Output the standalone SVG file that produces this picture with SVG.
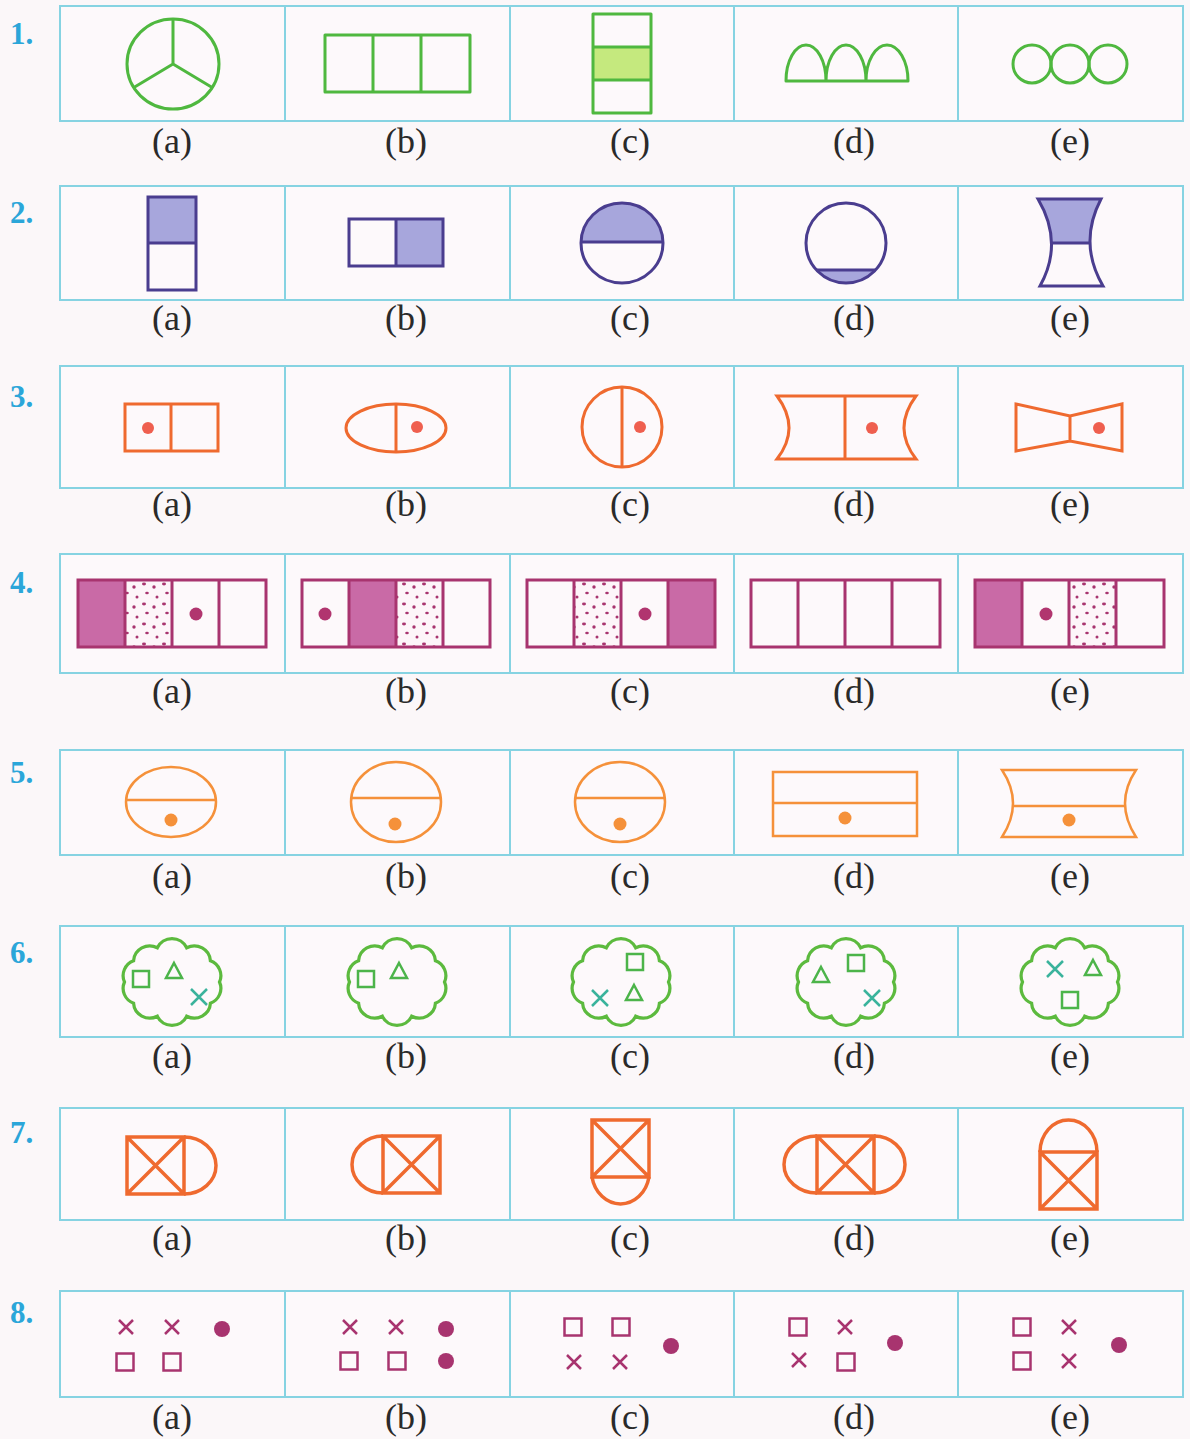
<svg xmlns="http://www.w3.org/2000/svg" width="1190" height="1439" viewBox="0 0 1190 1439">
<style>
.bg{fill:#fbf7f9}
.box{fill:#fdf9fb;stroke:#86d3e2;stroke-width:2}
.div{stroke:#86d3e2;stroke-width:2}
.num{font-family:"Liberation Serif",serif;font-weight:bold;font-size:31px;fill:#2ba6d9}
.lab{font-family:"Liberation Serif",serif;font-size:36px;fill:#2a2a2a;text-anchor:middle}
.g{fill:none;stroke:#4fb83f;stroke-width:3;stroke-linejoin:round}
.p{fill:none;stroke:#4a3d8f;stroke-width:3}
.pf{fill:#a7a6dc;stroke:none}
.o{fill:none;stroke:#ef6a2f;stroke-width:3}
.od{fill:#ef5f4f}
.m{fill:none;stroke:#a8346f;stroke-width:3}
.mf{fill:#c96aa6}
.md{fill:#b1356f}
.o5{fill:none;stroke:#f5913a;stroke-width:2.5}
.o5d{fill:#f5913a}
.cl{fill:none;stroke:#5cba3e;stroke-width:3}
.sh{fill:none;stroke:#4cb44a;stroke-width:2.5}
.x6{fill:none;stroke:#3ab39c;stroke-width:2.5}
.o7{fill:none;stroke:#ef6a2f;stroke-width:3.5}
.m8{fill:none;stroke:#a8346f;stroke-width:2.5}
.m8d{fill:#a8346f}
</style>
<defs>
<pattern id="speck" width="20" height="20" patternUnits="userSpaceOnUse">
<rect width="20" height="20" fill="#fdf5f9"/>
<ellipse cx="4" cy="4" rx="2" ry="1.4" fill="#a8346f"/>
<ellipse cx="14" cy="7" rx="1.7" ry="1.7" fill="#a8346f"/>
<ellipse cx="7" cy="13" rx="1.8" ry="1.3" fill="#a8346f"/>
<ellipse cx="17" cy="17" rx="1.5" ry="1.5" fill="#a8346f"/>
</pattern>
<path id="cloud" d="M44,0 A15,15 0 0 1 35.6,20 A15,15 0 0 1 13.6,32.3 A15,15 0 0 1 -13.6,32.3 A15,15 0 0 1 -35.6,20 A15,15 0 0 1 -44,0 A15,15 0 0 1 -35.6,-20 A15,15 0 0 1 -13.6,-32.3 A15,15 0 0 1 13.6,-32.3 A15,15 0 0 1 35.6,-20 A15,15 0 0 1 44,0 Z"/>
<path id="sq" d="M-8,-8 h16 v16 h-16 Z"/>
<path id="tri" d="M0,-8 L8,7 L-8,7 Z"/>
<path id="ex" d="M-8,-8 L8,8 M8,-8 L-8,8"/>
<path id="ex8" d="M-7,-7 L7,7 M7,-7 L-7,7"/>
<path id="sq8" d="M-8.5,-8.5 h17 v17 h-17 Z"/>
<path id="cr" d="M0,0 h57 v57 h-57 Z M0,0 L57,57 M57,0 L0,57"/>
</defs>
<rect class="bg" x="0" y="0" width="1190" height="1439"/>

<g id="frames">
<rect class="box" x="60" y="6" width="1123" height="115"/>
<rect class="box" x="60" y="186" width="1123" height="114"/>
<rect class="box" x="60" y="366" width="1123" height="122"/>
<rect class="box" x="60" y="554" width="1123" height="119"/>
<rect class="box" x="60" y="750" width="1123" height="105"/>
<rect class="box" x="60" y="926" width="1123" height="111"/>
<rect class="box" x="60" y="1108" width="1123" height="112"/>
<rect class="box" x="60" y="1291" width="1123" height="106"/>
<path class="div" d="M285,6V121 M510,6V121 M734,6V121 M958,6V121
M285,186V300 M510,186V300 M734,186V300 M958,186V300
M285,366V488 M510,366V488 M734,366V488 M958,366V488
M285,554V673 M510,554V673 M734,554V673 M958,554V673
M285,750V855 M510,750V855 M734,750V855 M958,750V855
M285,926V1037 M510,926V1037 M734,926V1037 M958,926V1037
M285,1108V1220 M510,1108V1220 M734,1108V1220 M958,1108V1220
M285,1291V1397 M510,1291V1397 M734,1291V1397 M958,1291V1397"/>
</g>

<g id="numbers">
<text class="num" x="10" y="44">1.</text>
<text class="num" x="10" y="223">2.</text>
<text class="num" x="10" y="407">3.</text>
<text class="num" x="10" y="593">4.</text>
<text class="num" x="10" y="783">5.</text>
<text class="num" x="10" y="963">6.</text>
<text class="num" x="10" y="1143">7.</text>
<text class="num" x="10" y="1323">8.</text>
</g>

<g id="labels">
<g><text class="lab" x="172" y="153">(a)</text><text class="lab" x="406" y="153">(b)</text><text class="lab" x="630" y="153">(c)</text><text class="lab" x="854" y="153">(d)</text><text class="lab" x="1070" y="153">(e)</text></g>
<g><text class="lab" x="172" y="330">(a)</text><text class="lab" x="406" y="330">(b)</text><text class="lab" x="630" y="330">(c)</text><text class="lab" x="854" y="330">(d)</text><text class="lab" x="1070" y="330">(e)</text></g>
<g><text class="lab" x="172" y="516">(a)</text><text class="lab" x="406" y="516">(b)</text><text class="lab" x="630" y="516">(c)</text><text class="lab" x="854" y="516">(d)</text><text class="lab" x="1070" y="516">(e)</text></g>
<g><text class="lab" x="172" y="703">(a)</text><text class="lab" x="406" y="703">(b)</text><text class="lab" x="630" y="703">(c)</text><text class="lab" x="854" y="703">(d)</text><text class="lab" x="1070" y="703">(e)</text></g>
<g><text class="lab" x="172" y="888">(a)</text><text class="lab" x="406" y="888">(b)</text><text class="lab" x="630" y="888">(c)</text><text class="lab" x="854" y="888">(d)</text><text class="lab" x="1070" y="888">(e)</text></g>
<g><text class="lab" x="172" y="1068">(a)</text><text class="lab" x="406" y="1068">(b)</text><text class="lab" x="630" y="1068">(c)</text><text class="lab" x="854" y="1068">(d)</text><text class="lab" x="1070" y="1068">(e)</text></g>
<g><text class="lab" x="172" y="1250">(a)</text><text class="lab" x="406" y="1250">(b)</text><text class="lab" x="630" y="1250">(c)</text><text class="lab" x="854" y="1250">(d)</text><text class="lab" x="1070" y="1250">(e)</text></g>
<g><text class="lab" x="172" y="1429">(a)</text><text class="lab" x="406" y="1429">(b)</text><text class="lab" x="630" y="1429">(c)</text><text class="lab" x="854" y="1429">(d)</text><text class="lab" x="1070" y="1429">(e)</text></g>
</g>

<!-- Row 1 -->
<g id="q1a"><ellipse class="g" cx="173" cy="64" rx="46" ry="45"/><path class="g" d="M173,64 V19 M173,64 L133,88 M173,64 L213,88"/></g>
<g id="q1b"><rect class="g" x="325" y="35" width="145" height="57"/><path class="g" d="M373,35V92 M421,35V92"/></g>
<g id="q1c"><rect x="593" y="47" width="58" height="33" fill="#c5e97e"/><rect class="g" x="593" y="14" width="58" height="99"/><path class="g" d="M593,47H651 M593,80H651"/></g>
<g id="q1d"><path class="g" d="M786,81 A20,36 0 0 1 826,81 A20,36 0 0 1 866,81 A21,36 0 0 1 908,81 Z M826,81V78 M866,81V78"/></g>
<g id="q1e"><ellipse class="g" cx="1032" cy="64" rx="19" ry="19"/><ellipse class="g" cx="1070" cy="64" rx="19" ry="19"/><ellipse class="g" cx="1108" cy="64" rx="19" ry="19"/></g>

<!-- Row 2 -->
<g id="q2a"><rect class="pf" x="148" y="197" width="48" height="46"/><rect class="p" x="148" y="197" width="48" height="93"/><path class="p" d="M148,243H196"/></g>
<g id="q2b"><rect class="pf" x="396" y="219" width="47" height="47"/><rect class="p" x="349" y="219" width="94" height="47"/><path class="p" d="M396,219V266"/></g>
<g id="q2c"><path class="pf" d="M581,242 A41,40 0 0 1 663,242 Z"/><ellipse class="p" cx="622" cy="243" rx="41" ry="40"/><path class="p" d="M581,242H663"/></g>
<g id="q2d"><path class="pf" d="M816.5,270 A40,40 0 0 0 875.5,270 Z"/><ellipse class="p" cx="846" cy="243" rx="40" ry="40"/><path class="p" d="M816.5,270H875.5"/></g>
<g id="q2e"><path class="pf" d="M1038,199 L1101,199 Q1089.5,221 1090,243 L1051.5,243 Q1051,221 1038,199 Z"/><path class="p" d="M1038,199 L1101,199 Q1078,243 1103,286 L1040,286 Q1064,243 1038,199 Z M1051.5,243H1090"/></g>

<!-- Row 3 -->
<g id="q3a"><rect class="o" x="125" y="404" width="93" height="47"/><path class="o" d="M171,404V451"/><circle class="od" cx="148" cy="428" r="6"/></g>
<g id="q3b"><ellipse class="o" cx="396" cy="428" rx="50" ry="24"/><path class="o" d="M396,404V452"/><circle class="od" cx="417" cy="427" r="6"/></g>
<g id="q3c"><ellipse class="o" cx="622" cy="427" rx="40" ry="40"/><path class="o" d="M622,387V467"/><circle class="od" cx="640" cy="427" r="6"/></g>
<g id="q3d"><path class="o" d="M777,396 L916,396 Q892,428 916,459 L777,459 Q801,428 777,396 Z M845,396V459"/><circle class="od" cx="872" cy="428" r="6"/></g>
<g id="q3e"><path class="o" d="M1016,404 L1070,416 L1122,404 L1122,451 L1070,441 L1016,451 Z M1070,416V441"/><circle class="od" cx="1099" cy="428" r="6"/></g>

<!-- Row 4 -->
<g id="q4a"><rect class="mf" x="78" y="580" width="47" height="67"/><rect x="125" y="580" width="47" height="67" fill="url(#speck)"/><rect class="m" x="78" y="580" width="188" height="67"/><path class="m" d="M125,580V647 M172,580V647 M219,580V647"/><circle class="md" cx="196" cy="614" r="6.5"/></g>
<g id="q4b"><rect class="mf" x="349" y="580" width="47" height="67"/><rect x="396" y="580" width="47" height="67" fill="url(#speck)"/><rect class="m" x="302" y="580" width="188" height="67"/><path class="m" d="M349,580V647 M396,580V647 M443,580V647"/><circle class="md" cx="325" cy="614" r="6.5"/></g>
<g id="q4c"><rect class="mf" x="668" y="580" width="47" height="67"/><rect x="574" y="580" width="47" height="67" fill="url(#speck)"/><rect class="m" x="527" y="580" width="188" height="67"/><path class="m" d="M574,580V647 M621,580V647 M668,580V647"/><circle class="md" cx="645" cy="614" r="6.5"/></g>
<g id="q4d"><rect class="m" x="751" y="580" width="189" height="67"/><path class="m" d="M798,580V647 M845,580V647 M892,580V647"/></g>
<g id="q4e"><rect class="mf" x="975" y="580" width="47" height="67"/><rect x="1069" y="580" width="47" height="67" fill="url(#speck)"/><rect class="m" x="975" y="580" width="189" height="67"/><path class="m" d="M1022,580V647 M1069,580V647 M1116,580V647"/><circle class="md" cx="1046" cy="614" r="6.5"/></g>

<!-- Row 5 -->
<g id="q5a"><ellipse class="o5" cx="171" cy="802" rx="45" ry="35"/><path class="o5" d="M126,800H216"/><circle class="o5d" cx="171" cy="820" r="6.5"/></g>
<g id="q5b"><ellipse class="o5" cx="396" cy="802" rx="45" ry="40"/><path class="o5" d="M351,798H441"/><circle class="o5d" cx="395" cy="824" r="6.5"/></g>
<g id="q5c"><ellipse class="o5" cx="620" cy="802" rx="45" ry="40"/><path class="o5" d="M575,798H665"/><circle class="o5d" cx="620" cy="824" r="6.5"/></g>
<g id="q5d"><rect class="o5" x="773" y="772" width="144" height="64"/><path class="o5" d="M773,803H917"/><circle class="o5d" cx="845" cy="818" r="6.5"/></g>
<g id="q5e"><path class="o5" d="M1002,770 L1136,770 Q1114,803 1136,837 L1002,837 Q1024,803 1002,770 Z M1013,806H1125"/><circle class="o5d" cx="1069" cy="820" r="6.5"/></g>

<!-- Row 6 -->
<g id="q6a"><use href="#cloud" class="cl" transform="translate(172,982) scale(1.08,1.06)"/><use href="#sq" class="sh" transform="translate(141,979)"/><use href="#tri" class="sh" transform="translate(174,971)"/><use href="#ex" class="x6" transform="translate(199,997)"/></g>
<g id="q6b"><use href="#cloud" class="cl" transform="translate(397,982) scale(1.08,1.06)"/><use href="#sq" class="sh" transform="translate(366,979)"/><use href="#tri" class="sh" transform="translate(399,971)"/></g>
<g id="q6c"><use href="#cloud" class="cl" transform="translate(621,982) scale(1.08,1.06)"/><use href="#sq" class="sh" transform="translate(635,962)"/><use href="#ex" class="x6" transform="translate(600,998)"/><use href="#tri" class="sh" transform="translate(634,993)"/></g>
<g id="q6d"><use href="#cloud" class="cl" transform="translate(846,982) scale(1.08,1.06)"/><use href="#tri" class="sh" transform="translate(821,975)"/><use href="#sq" class="sh" transform="translate(856,963)"/><use href="#ex" class="x6" transform="translate(872,998)"/></g>
<g id="q6e"><use href="#cloud" class="cl" transform="translate(1070,982) scale(1.08,1.06)"/><use href="#ex" class="x6" transform="translate(1055,969)"/><use href="#tri" class="sh" transform="translate(1093,968)"/><use href="#sq" class="sh" transform="translate(1070,1000)"/></g>

<!-- Row 7 -->
<g id="q7a"><use href="#cr" class="o7" transform="translate(127,1137)"/><path class="o7" d="M184,1137 A32,28.5 0 0 1 184,1194"/></g>
<g id="q7b"><use href="#cr" class="o7" transform="translate(383,1136)"/><path class="o7" d="M383,1136 A31,28.5 0 0 0 383,1193"/></g>
<g id="q7c"><use href="#cr" class="o7" transform="translate(592,1120)"/><path class="o7" d="M592,1177 A29,33 0 0 0 649,1177"/></g>
<g id="q7d"><use href="#cr" class="o7" transform="translate(817,1136)"/><path class="o7" d="M817,1136 A33,28.5 0 0 0 817,1193 M874,1136 A31,28.5 0 0 1 874,1193"/></g>
<g id="q7e"><use href="#cr" class="o7" transform="translate(1040,1152)"/><path class="o7" d="M1040,1152 A28.5,32 0 0 1 1097,1152"/></g>

<!-- Row 8 -->
<g id="q8a"><use href="#ex8" class="m8" transform="translate(126,1327)"/><use href="#ex8" class="m8" transform="translate(172,1327)"/><circle class="m8d" cx="222" cy="1329" r="8"/><use href="#sq8" class="m8" transform="translate(125,1362)"/><use href="#sq8" class="m8" transform="translate(172,1362)"/></g>
<g id="q8b"><use href="#ex8" class="m8" transform="translate(350,1327)"/><use href="#ex8" class="m8" transform="translate(396,1327)"/><circle class="m8d" cx="446" cy="1329" r="8"/><use href="#sq8" class="m8" transform="translate(349,1361)"/><use href="#sq8" class="m8" transform="translate(397,1361)"/><circle class="m8d" cx="446" cy="1361" r="8"/></g>
<g id="q8c"><use href="#sq8" class="m8" transform="translate(573,1327)"/><use href="#sq8" class="m8" transform="translate(621,1327)"/><use href="#ex8" class="m8" transform="translate(574,1362)"/><use href="#ex8" class="m8" transform="translate(620,1362)"/><circle class="m8d" cx="671" cy="1346" r="8"/></g>
<g id="q8d"><use href="#sq8" class="m8" transform="translate(798,1327)"/><use href="#ex8" class="m8" transform="translate(845,1327)"/><use href="#ex8" class="m8" transform="translate(799,1360)"/><use href="#sq8" class="m8" transform="translate(846,1362)"/><circle class="m8d" cx="895" cy="1343" r="8"/></g>
<g id="q8e"><use href="#sq8" class="m8" transform="translate(1022,1327)"/><use href="#ex8" class="m8" transform="translate(1069,1327)"/><use href="#sq8" class="m8" transform="translate(1022,1361)"/><use href="#ex8" class="m8" transform="translate(1069,1361)"/><circle class="m8d" cx="1119" cy="1345" r="8"/></g>
</svg>
